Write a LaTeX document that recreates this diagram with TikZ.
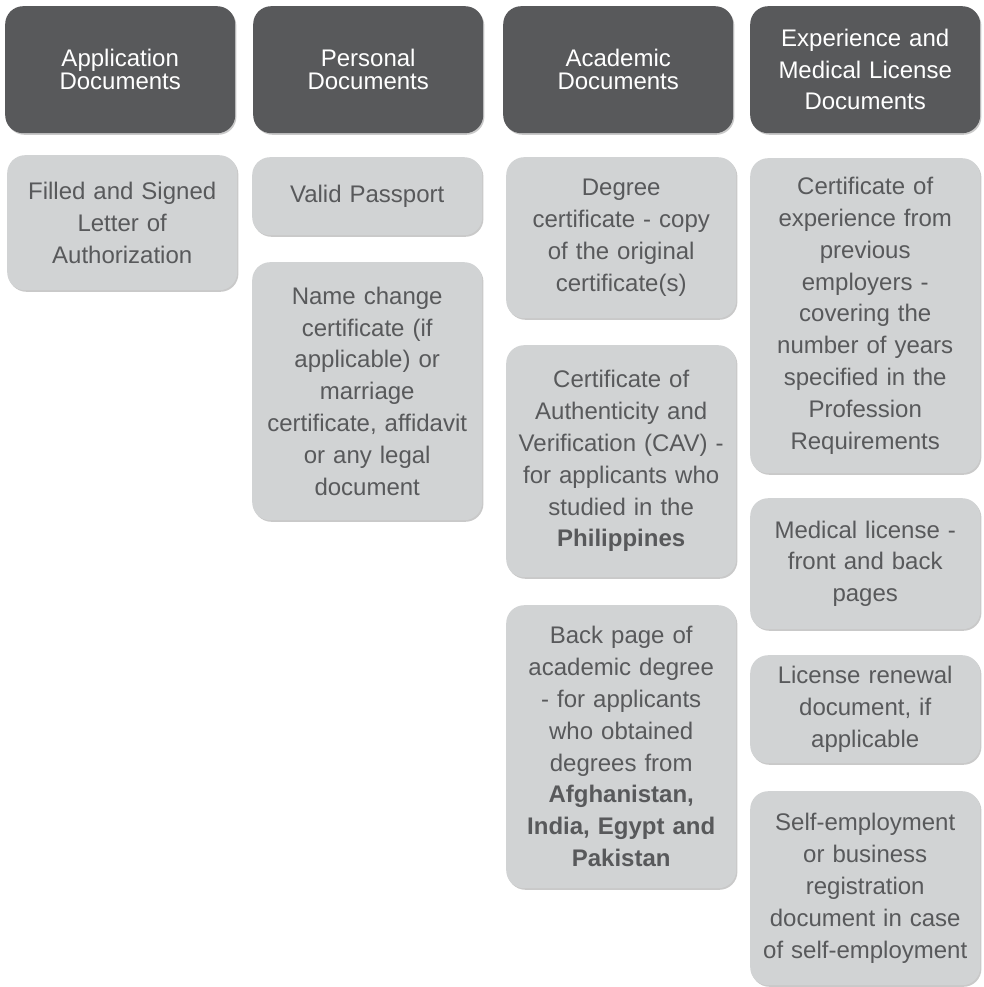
\documentclass[tikz,border=0pt]{standalone}
\usepackage{fontspec}
\setmainfont{Liberation Sans}
\usetikzlibrary{shadows}
\definecolor{hdrfill}{HTML}{58595B}
\definecolor{cardfill}{HTML}{D1D3D4}
\definecolor{cardtext}{HTML}{58595B}
\tikzset{
  boxbase/.style={rounded corners=18pt, anchor=north west, minimum width=230pt,
    text width=226pt, align=center, inner sep=2pt,
    drop shadow={shadow xshift=1.2pt, shadow yshift=-1.6pt, opacity=0.35, fill=black!60}},
  hdr/.style={boxbase, fill=hdrfill, text=white, minimum height=127pt,
    font=\fontsize{24}{23}\selectfont},
  hdrwide/.style={hdr, font=\fontsize{24}{31.5}\selectfont},
  card/.style={boxbase, fill=cardfill, text=cardtext,
    font=\fontsize{24}{31.8}\selectfont}
}
\begin{document}
\begin{tikzpicture}[x=1pt,y=-1pt]
\useasboundingbox (0,0) rectangle (984,987);
\fill[white] (0,0) rectangle (984,987);
% headers
\node[hdr] (h1) at (5,6) {Application\\Documents};
\node[hdr] (h2) at (253,6) {Personal\\Documents};
\node[hdr] (h3) at (503,6) {Academic\\Documents};
\node[hdrwide] (h4) at (750,6) {Experience and\\Medical License\\Documents};
% column 1
\node[card, minimum height=135pt] (a1) at (7,155) {Filled and Signed\\Letter of\\Authorization};
% column 2
\node[card, minimum height=78pt] (p1) at (252,157) {Valid Passport};
\node[card, minimum height=258pt] (p2) at (252,262) {Name change\\certificate (if\\applicable) or\\marriage\\certificate, affidavit\\or any legal\\document};
% column 3
\node[card, minimum height=161pt] (c1) at (506,157) {Degree\\certificate - copy\\of the original\\certificate(s)};
\node[card, minimum height=232pt] (c2) at (506,345) {Certificate of\\Authenticity and\\Verification (CAV) -\\for applicants who\\studied in the\\\textbf{Philippines}};
\node[card, minimum height=283pt] (c3) at (506,605) {Back page of\\academic degree\\- for applicants\\who obtained\\degrees from\\\textbf{Afghanistan,}\\\textbf{India, Egypt and}\\\textbf{Pakistan}};
% column 4
\node[card, minimum height=315pt] (e1) at (750,158) {Certificate of\\experience from\\previous\\employers -\\covering the\\number of years\\specified in the\\Profession\\Requirements};
\node[card, minimum height=131pt] (e2) at (750,498) {Medical license -\\front and back\\pages};
\node[card, minimum height=108pt] (e3) at (750,655) {License renewal\\document, if\\applicable};
\node[card, minimum height=194pt] (e4) at (750,791) {Self-employment\\or business\\registration\\document in case\\of self-employment};
\end{tikzpicture}
\end{document}
